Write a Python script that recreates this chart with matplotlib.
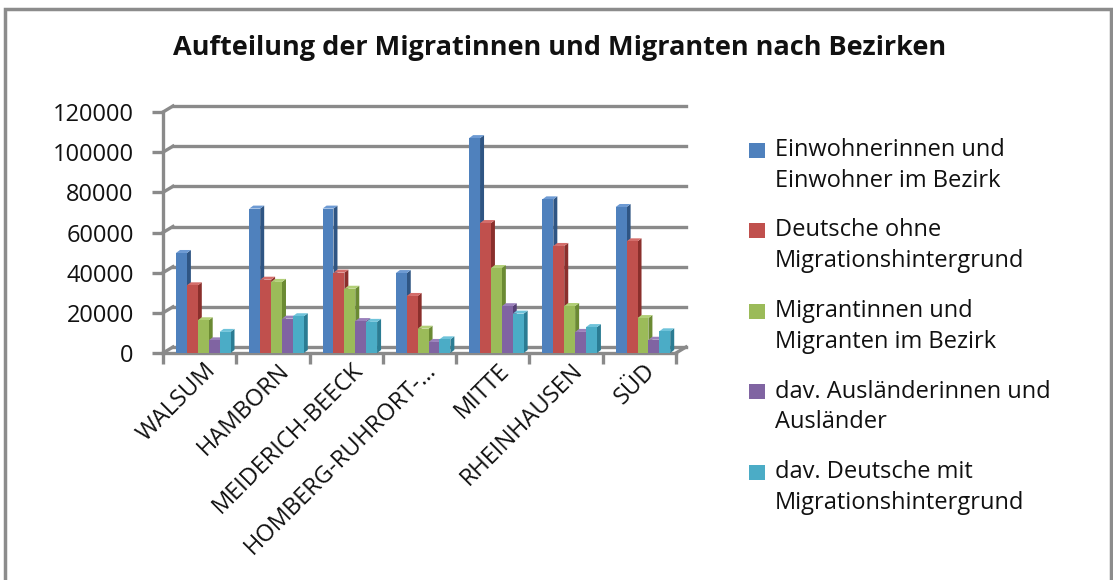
import matplotlib
matplotlib.use('Agg')
import matplotlib.pyplot as plt
from matplotlib.patches import Rectangle, Polygon

plt.rcParams['font.family'] = ['Open Sans', 'DejaVu Sans']

##### data ##############################
bezirke = ['WALSUM', 'HAMBORN', 'MEIDERICH-BEECK', 'HOMBERG-RUHRORT-…',
           'MITTE', 'RHEINHAUSEN', 'SÜD']
einwohner = [49800, 71900, 71900, 39800, 107000, 76500, 72700]
deutsche_ohne = [33700, 36500, 40000, 28400, 64700, 53300, 55600]
migranten = [16300, 35400, 32000, 12100, 42300, 23400, 17400]
auslaender = [6300, 17100, 15900, 5500, 23300, 10500, 6600]
deutsche_mit = [10500, 18300, 15500, 6800, 19600, 12900, 10800]

series = [einwohner, deutsche_ohne, migranten, auslaender, deutsche_mit]
labels = ['Einwohnerinnen und\nEinwohner im Bezirk',
          'Deutsche ohne\nMigrationshintergrund',
          'Migrantinnen und\nMigranten im Bezirk',
          'dav. Ausländerinnen und\nAusländer',
          'dav. Deutsche mit\nMigrationshintergrund']
yticks = [0, 20000, 40000, 60000, 80000, 100000, 120000]

colors = ['#4f81bd', '#c0504d', '#9bbb59', '#8064a2', '#4bacc6']
side_colors = ['#2f5583', '#8a2f2c', '#6b8a33', '#553f75', '#2b7c93']
top_colors = ['#6d9ad3', '#d46d6a', '#b2cf77', '#9a80bb', '#6fc3da']
grid_col = '#8a8a8a'
fs = 17

W, H = 1113, 580
fig = plt.figure(figsize=(W / 100, H / 100), dpi=100)
ax = fig.add_axes([163 / W, 1 - 353 / H, 513 / W, 241 / H])
ax.set_xlim(0, 7)
ax.set_ylim(0, 120000)

# pixel -> data units
px_x = 7 / 513
px_y = 120000 / 241
dx, dy = 10 * px_x, 6 * px_y        # depth of the 3d box
w = 10.9 * px_x                     # bar face width
s = 13 * px_x                       # offset of first bar in a category
bd, bh = 4 * px_x, 3 * px_y         # depth of a bar

# walls: diagonal on left, gridlines on back wall
for v in yticks:
    ax.plot([0, dx], [v, v + dy], color=grid_col, lw=2.4, clip_on=False, zorder=1)
    ax.plot([dx, 7 + dx], [v + dy, v + dy], color=grid_col, lw=2.4,
            clip_on=False, zorder=1)
ax.plot([7, 7 + dx], [0, dy], color=grid_col, lw=2.4, clip_on=False, zorder=1)

# bars with side and top faces
for i, vals in enumerate(series):
    xs = [c + s + i * w for c in range(len(bezirke))]
    for x0, v in zip(xs, vals):
        ax.add_patch(Polygon([(x0 + w, 0), (x0 + w + bd, bh), (x0 + w + bd, v + bh),
                              (x0 + w, v)], closed=True, fc=side_colors[i],
                             ec='none', zorder=10 + 2 * i, clip_on=False))
        ax.add_patch(Polygon([(x0, v), (x0 + bd, v + bh), (x0 + w + bd, v + bh),
                              (x0 + w, v)], closed=True, fc=top_colors[i],
                             ec='none', zorder=10 + 2 * i, clip_on=False))
    ax.bar(xs, vals, w, align='edge', color=colors[i], zorder=11 + 2 * i,
           clip_on=False)

# axes styling
for sp in ['top', 'right']:
    ax.spines[sp].set_visible(False)
for sp in ['left', 'bottom']:
    ax.spines[sp].set_color(grid_col)
    ax.spines[sp].set_linewidth(2.4)
ax.set_yticks(yticks)
ax.set_yticklabels([str(t) for t in yticks], fontsize=fs, color='#111111')
ax.set_xticks(range(8))
ax.set_xticklabels([])
ax.tick_params(axis='both', length=8, width=2.4, color=grid_col)
ax.tick_params(axis='y', pad=13)
ax.set_facecolor('none')

for c, name in enumerate(bezirke):
    ax.text(c + 0.5 + 13 * px_x, -14 * px_y, name, rotation=45, ha='right',
            va='center', rotation_mode='anchor', fontsize=fs, color='#111111')

# title
fig.text(560 / W, 1 - 48 / H, 'Aufteilung der Migratinnen und Migranten nach Bezirken',
         ha='center', va='center', fontsize=19.5, fontweight='bold', color='#111111')

# legend
for i, lab in enumerate(labels):
    yc = 150 + i * 80.5
    fig.patches.append(Rectangle((749 / W, 1 - (yc + 7.5) / H), 16 / W, 15 / H,
                                 transform=fig.transFigure, fc=colors[i], ec='none'))
    for j, line in enumerate(lab.split('\n')):
        fig.text(775 / W, 1 - (yc + j * 31) / H, line, ha='left', va='center',
                 fontsize=fs, color='#111111')

# outer frame
fig.patches.append(Rectangle((5 / W, -0.1), (1111 - 5) / W, 1 - 9 / H + 0.1,
                             transform=fig.transFigure, fill=False,
                             ec='#8c8c8c', lw=2.5))

plt.savefig('out.png', dpi=100)
